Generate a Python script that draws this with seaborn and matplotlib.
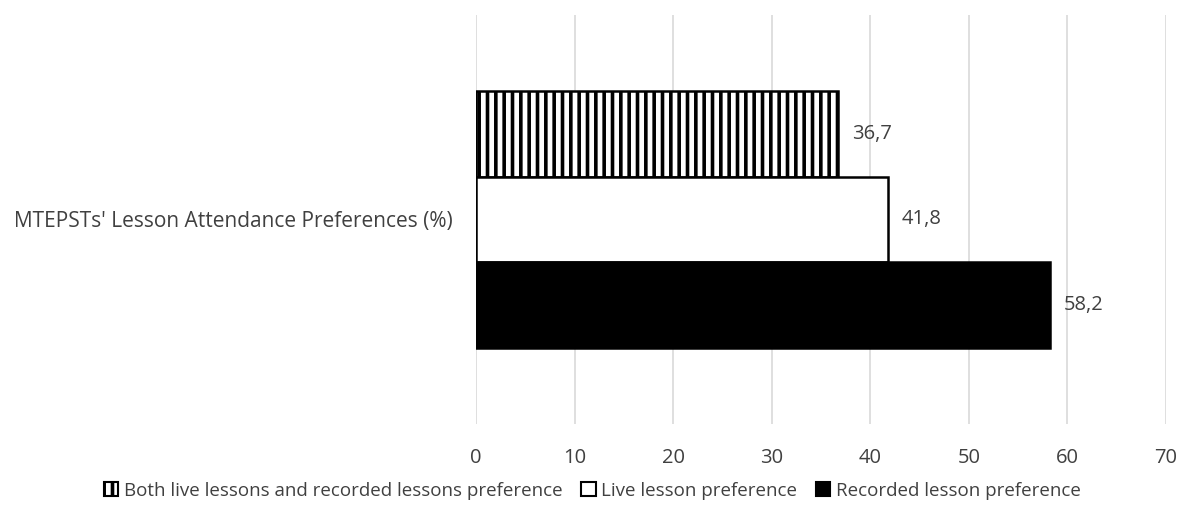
import matplotlib
matplotlib.use("Agg")
import matplotlib.pyplot as plt
import matplotlib.patches as mpatches
import seaborn as sns
import pandas as pd

category = ["MTEPSTs' Lesson Attendance Preferences (%)"]
series = ["Both live lessons and recorded lessons preference",
          "Live lesson preference",
          "Recorded lesson preference"]
values = [36.7, 41.8, 58.2]
x_ticks = [0, 10, 20, 30, 40, 50, 60, 70]

sns.set_theme(style="white")
plt.rcParams['font.family'] = ['Open Sans', 'DejaVu Sans']
plt.rcParams['hatch.linewidth'] = 2.6
plt.rcParams['hatch.color'] = 'black'

TXT = "#404040"
fills = ["white", "white", "black"]
hatches = ["||", "", ""]

df = pd.DataFrame({"cat": category * len(series), "series": series, "value": values})

fig = plt.figure(figsize=(11.86, 5.2), dpi=100)
ax = fig.add_axes([0.4013, 0.1846, 0.5818, 0.7866])

sns.barplot(data=df, y="cat", x="value", hue="series", hue_order=series,
            orient="h", width=0.628, palette=fills,
            edgecolor="black", linewidth=1.8, ax=ax, legend=False)

for cont, h in zip(ax.containers, hatches):
    for p in cont:
        p.set_hatch(h)
    ax.bar_label(cont, labels=[f"{v:.1f}".replace(".", ",") for v in cont.datavalues],
                 padding=10, fontsize=14.5, color=TXT)

ax.set_xlim(0, 70)
ax.set_xticks(x_ticks)
ax.set_ylim(0.5, -0.5)
ax.grid(axis="x", color="#d9d9d9", linewidth=1.2)
ax.set_axisbelow(True)
for s in ax.spines.values():
    s.set_visible(False)
ax.tick_params(axis="x", length=0, labelsize=14.5, labelcolor=TXT, pad=17)
ax.tick_params(axis="y", length=0, labelsize=15, labelcolor=TXT, pad=17)
ax.set_xlabel("")
ax.set_ylabel("")

handles = [mpatches.Patch(facecolor=f, edgecolor="black", hatch=h, linewidth=1.5)
           for f, h in zip(fills, hatches)]
fig.legend(handles, series, loc="center", bbox_to_anchor=(0.4995, 0.056), ncol=3,
           frameon=False, fontsize=13.5, handlelength=0.75, handleheight=0.75,
           handletextpad=0.3, columnspacing=1.0, labelcolor=TXT)

fig.savefig("out.png", dpi=100)
